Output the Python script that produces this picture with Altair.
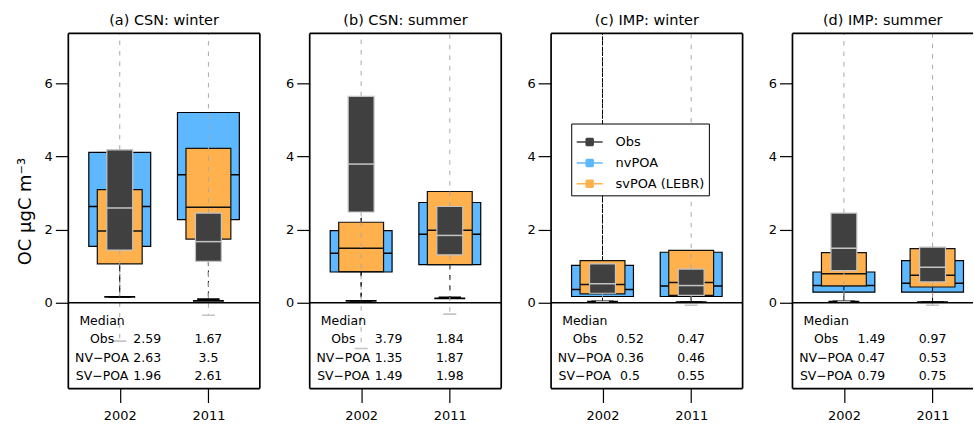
import altair as alt
import pandas as pd

# ---------------- data ----------------
panel_titles = ["(a) CSN: winter", "(b) CSN: summer", "(c) IMP: winter", "(d) IMP: summer"]
years = ["2002", "2011"]
series_names = ["Obs", "nvPOA", "svPOA (LEBR)"]
row_labels = ["Obs", "NV\u2212POA", "SV\u2212POA"]
y_title = "OC  \u03bcgC m\u207b\u00b3"

# one [2002, 2011] pair per panel (a)-(d)
obs_q1 = [[1.44, 1.13], [2.48, 1.31], [0.26, 0.20], [0.88, 0.57]]
obs_med = [[2.59, 1.67], [3.79, 1.84], [0.52, 0.47], [1.49, 0.97]]
obs_q3 = [[4.18, 2.45], [5.64, 2.63], [1.06, 0.92], [2.45, 1.52]]
obs_lo = [[-1.05, -0.34], [-1.25, -0.31], [0.03, -0.07], [0.03, -0.07]]
obs_hi = [[9.0, 9.0], [9.0, 9.0], [1.06, 9.0], [9.0, 9.0]]

nv_q1 = [[1.54, 2.27], [0.84, 1.04], [0.17, 0.17], [0.29, 0.29]]
nv_med = [[2.63, 3.50], [1.35, 1.87], [0.36, 0.46], [0.47, 0.53]]
nv_q3 = [[4.11, 5.20], [1.97, 2.74], [1.02, 1.38], [0.84, 1.15]]
nv_lo = [[0.16, 0.05], [0.05, 0.12], [0.03, 0.02], [0.03, 0.02]]
nv_hi = [[4.11, 5.20], [2.30, 2.74], [9.0, 1.38], [0.84, 1.15]]

sv_q1 = [[1.06, 1.74], [0.85, 1.04], [0.24, 0.20], [0.46, 0.43]]
sv_med = [[1.96, 2.61], [1.49, 1.98], [0.50, 0.55], [0.79, 0.75]]
sv_q3 = [[3.09, 4.22], [2.20, 3.04], [1.15, 1.43], [1.37, 1.48]]
sv_lo = [[0.16, 0.10], [0.05, 0.15], [0.04, 0.02], [0.04, 0.02]]
sv_hi = [[3.09, 4.22], [2.90, 3.04], [9.0, 1.43], [1.37, 1.48]]

# ---------------- layout / style constants ----------------
XMIN, XMAX = 0.42, 2.58
YMIN, YMAX = -2.345, 7.36
PANEL_W, LAST_W, PANEL_H = 192, 181, 356
PX_PER_UNIT = PANEL_W / (XMAX - XMIN)
LABEL_X, COL1_X, COL2_X = 0.80, 1.31, 2.0
ROW_Y = [-0.5, -1.0, -1.5, -2.0]

HALF = {"nvPOA": 0.349, "svPOA (LEBR)": 0.253, "Obs": 0.146}
FILL = {"nvPOA": "#5DB8FF", "svPOA (LEBR)": "#FFB14E", "Obs": "#404040"}
EDGE = {"nvPOA": "#000000", "svPOA (LEBR)": "#111111", "Obs": "#C4C4C4"}
WHISK = {"nvPOA": "#000000", "svPOA (LEBR)": "#000000", "Obs": "#A8A8A8"}
LEG_COLORS = ["#404040", "#5DB8FF", "#FFB14E"]
DASH = [4.5, 6]
FRAME_W = 1.7
FONT = "DejaVu Sans"

SYMBOL = ("M-1,0H1M-0.27,-0.27H0.27M-0.27,-0.17H0.27M-0.27,-0.07H0.27"
          "M-0.27,0.03H0.27M-0.27,0.13H0.27M-0.27,0.23H0.27M-0.27,0.27H0.27"
          "M-0.27,-0.27V0.27M0.27,-0.27V0.27")

series_data = {
    "nvPOA": (nv_q1, nv_med, nv_q3, nv_lo, nv_hi),
    "svPOA (LEBR)": (sv_q1, sv_med, sv_q3, sv_lo, sv_hi),
    "Obs": (obs_q1, obs_med, obs_q3, obs_lo, obs_hi),
}


def fmt(v):
    return f"{round(v, 2):g}"


xaxis = alt.Axis(values=[1, 2],
                 labelExpr=f"datum.value == 1 ? '{years[0]}' : '{years[1]}'",
                 tickSize=14, tickWidth=1.2, tickColor="black",
                 labelFontSize=13, labelPadding=7, labelColor="black",
                 domain=False, grid=False, title=None)


def yaxis(first):
    kw = dict(values=[0, 2, 4, 6], tickSize=13, tickWidth=1.2, tickColor="black",
              labelFontSize=13, labelPadding=3, labelColor="black",
              domain=False, grid=False)
    if first:
        kw.update(title=y_title, titleFontSize=18, titleFontWeight="normal",
                  titleColor="black", titleAngle=270, titleX=-43, titleY=PANEL_H / 2,
                  titleBaseline="middle", titleAlign="center")
    else:
        kw.update(title=None)
    return alt.Axis(**kw)


def make_panel(p):
    w = PANEL_W if p < 3 else LAST_W
    xmax = XMIN + w / PX_PER_UNIT
    xs = alt.Scale(domain=[XMIN, xmax], nice=False, zero=False)
    ys = alt.Scale(domain=[YMIN, YMAX], nice=False, zero=False)
    yax = yaxis(p == 0)

    def X(f):
        return alt.X(f, type="quantitative", scale=xs, axis=xaxis)

    def Y(f):
        return alt.Y(f, type="quantitative", scale=ys, axis=yax)

    layers = []
    for name in ["nvPOA", "svPOA (LEBR)", "Obs"]:
        q1, med, q3, lo, hi = series_data[name]
        h = HALF[name]
        df = pd.DataFrame({
            "x": [1, 2],
            "q1": q1[p], "med": med[p], "q3": q3[p], "lo": lo[p], "hi": hi[p],
        })
        df["xl"] = df["x"] - h
        df["xr"] = df["x"] + h
        df["sl"] = df["x"] - h / 2
        df["sr"] = df["x"] + h / 2
        base = alt.Chart(df)
        layers += [
            base.mark_rule(stroke=WHISK[name], strokeWidth=1, strokeDash=DASH, clip=True)
                .encode(x=X("x"), y=Y("q3"), y2="hi"),
            base.mark_rule(stroke=WHISK[name], strokeWidth=1, strokeDash=DASH, clip=True)
                .encode(x=X("x"), y=Y("q1"), y2="lo"),
            base.mark_rule(stroke=WHISK[name] if name != "Obs" else "#C4C4C4",
                           strokeWidth=1.6, clip=True)
                .encode(x=X("sl"), x2="sr", y=Y("lo")),
            base.mark_rect(fill=FILL[name], stroke=EDGE[name], strokeWidth=1.2)
                .encode(x=X("xl"), x2="xr", y=Y("q1"), y2="q3"),
            base.mark_rule(stroke=EDGE[name], strokeWidth=1.5)
                .encode(x=X("xl"), x2="xr", y=Y("med")),
        ]

    # horizontal zero line
    layers.append(alt.Chart(pd.DataFrame({"y": [0.0]}))
                  .mark_rule(stroke="black", strokeWidth=1.3)
                  .encode(y=Y("y")))

    # median table
    rows = [{"tx": LABEL_X, "ty": ROW_Y[0], "label": "Median"}]
    for i, (lab, arr) in enumerate(zip(row_labels, [obs_med, nv_med, sv_med])):
        yy = ROW_Y[i + 1]
        rows.append({"tx": LABEL_X, "ty": yy, "label": lab})
        rows.append({"tx": COL1_X, "ty": yy, "label": fmt(arr[p][0])})
        rows.append({"tx": COL2_X, "ty": yy, "label": fmt(arr[p][1])})
    layers.append(alt.Chart(pd.DataFrame(rows))
                  .mark_text(fontSize=12.5, align="center", baseline="middle",
                             color="black", font=FONT)
                  .encode(x=X("tx"), y=Y("ty"), text="label:N"))

    if p == 2:
        leg = alt.Legend(title=None, orient="none", legendX=20.2, legendY=90.3,
                         padding=4.5, rowPadding=-9.3, strokeColor="black", fillColor="white",
                         labelFontSize=13, labelFont=FONT, labelColor="black", labelOffset=12,
                         symbolType=SYMBOL, symbolSize=676, symbolStrokeWidth=1.5,
                         symbolOpacity=1)
        layers.append(alt.Chart(pd.DataFrame({"series": series_names}))
                      .mark_rule(clip=True, strokeWidth=1.5)
                      .encode(x=alt.value(-200), y=alt.value(-200), y2=alt.value(-190),
                              stroke=alt.Stroke("series:N",
                                                scale=alt.Scale(domain=series_names,
                                                                range=LEG_COLORS),
                                                legend=leg)))

    # panel frame (the last panel runs off the right edge, so it has no right side)
    fdf = pd.DataFrame({"top": [YMAX], "bot": [YMIN], "left": [XMIN], "right": [xmax]})
    fb = alt.Chart(fdf)
    layers += [
        fb.mark_rule(stroke="black", strokeWidth=FRAME_W).encode(y=Y("top")),
        fb.mark_rule(stroke="black", strokeWidth=FRAME_W).encode(y=Y("bot")),
        fb.mark_rule(stroke="black", strokeWidth=FRAME_W).encode(x=X("left")),
    ]
    if p < 3:
        layers.append(fb.mark_rule(stroke="black", strokeWidth=FRAME_W).encode(x=X("right")))

    props = dict(width=w, height=PANEL_H,
                 title=alt.TitleParams(panel_titles[p], fontSize=14.5, fontWeight="normal",
                                       color="black", font=FONT, offset=8, dy=15,
                                       baseline="alphabetic", anchor="middle"))
    return alt.layer(*layers).properties(**props)


chart = (alt.hconcat(*[make_panel(p) for p in range(4)], spacing=50, bounds="flush")
         .resolve_scale(x="independent", y="independent", stroke="independent")
         .properties(padding={"left": 16.5, "top": 12, "right": 0, "bottom": 0})
         .configure(font=FONT, background="white",
                    view=alt.ViewConfig(stroke="transparent", strokeWidth=0)))

chart.save("out.html", embed_options={"renderer": "svg", "actions": False})
